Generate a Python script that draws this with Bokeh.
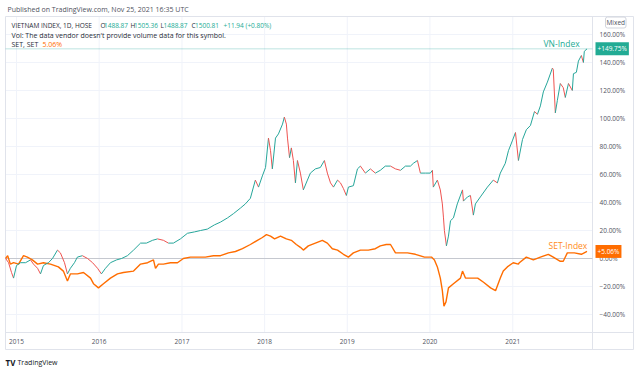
import pandas as pd
from bokeh.plotting import figure
from bokeh.models import Range1d, Label, ColumnDataSource
from bokeh.embed import file_html
from bokeh.resources import INLINE

# ---------------- data (percent change since start) ----------------
vn_dates = [
    "2014-11-14", "2014-11-27", "2014-12-10", "2014-12-19", "2015-01-01", "2015-01-19", "2015-02-10",
    "2015-03-04", "2015-03-17", "2015-04-04", "2015-04-17", "2015-04-30", "2015-05-22", "2015-06-09",
    "2015-07-01", "2015-07-14", "2015-08-01", "2015-08-14", "2015-08-27", "2015-09-14", "2015-09-27",
    "2015-10-19", "2015-11-11", "2015-12-03", "2015-12-25", "2016-01-11", "2016-01-29", "2016-02-20",
    "2016-03-18", "2016-04-09", "2016-05-05", "2016-06-01", "2016-07-02", "2016-07-28", "2016-08-24",
    "2016-09-15", "2016-10-11", "2016-11-02", "2016-11-24", "2016-12-25", "2017-01-25", "2017-02-25",
    "2017-03-24", "2017-04-23", "2017-05-24", "2017-06-20", "2017-07-21", "2017-08-16", "2017-09-16",
    "2017-10-08", "2017-10-30", "2017-11-21", "2017-12-05", "2017-12-22", "2018-01-05", "2018-01-18",
    "2018-01-27", "2018-02-04", "2018-02-18", "2018-03-03", "2018-03-21", "2018-03-29", "2018-04-07",
    "2018-04-12", "2018-04-21", "2018-04-29", "2018-05-08", "2018-05-17", "2018-05-26", "2018-06-08",
    "2018-06-21", "2018-07-09", "2018-07-22", "2018-08-13", "2018-09-04", "2018-09-22", "2018-10-05",
    "2018-10-19", "2018-11-01", "2018-11-19", "2018-12-02", "2018-12-15", "2018-12-28", "2019-01-06",
    "2019-01-28", "2019-02-15", "2019-02-28", "2019-03-22", "2019-04-13", "2019-05-05", "2019-05-27",
    "2019-06-18", "2019-07-11", "2019-08-02", "2019-08-24", "2019-09-15", "2019-10-07", "2019-10-20",
    "2019-11-07", "2019-11-20", "2019-12-12", "2020-01-03", "2020-01-12", "2020-01-16", "2020-02-03",
    "2020-02-16", "2020-02-25", "2020-03-01", "2020-03-05", "2020-03-14", "2020-03-23", "2020-04-01",
    "2020-04-14", "2020-05-01", "2020-05-24", "2020-05-28", "2020-06-15", "2020-06-28", "2020-07-11",
    "2020-07-20", "2020-08-11", "2020-09-11", "2020-10-07", "2020-10-25", "2020-11-07", "2020-11-29",
    "2020-12-13", "2020-12-30", "2021-01-13", "2021-01-26", "2021-02-13", "2021-03-02", "2021-03-20",
    "2021-04-07", "2021-04-20", "2021-05-03", "2021-05-16", "2021-06-03", "2021-06-25", "2021-06-29",
    "2021-07-08", "2021-07-17", "2021-07-30", "2021-08-12", "2021-08-21", "2021-09-04", "2021-09-21",
    "2021-09-26", "2021-10-09", "2021-10-18", "2021-10-31", "2021-11-09", "2021-11-13", "2021-11-25",
]
vn_pct = [
    0, -3, -10, -14, -5, -3, -3,
    -1, -4, -7, -11, -5, -3, 0,
    6, 4, -3, -11, -7, -3, 1,
    2, 0, -3, -7, -11, -7, -3,
    -1, 0, 2, 6, 11, 11, 13,
    14, 13, 11, 11, 14, 18, 19,
    20, 21, 24, 26, 29, 32, 36,
    39, 43, 56, 51, 59, 65, 86,
    77, 64, 86, 89, 96, 101, 96,
    86, 72, 79, 70, 54, 70, 61,
    49, 56, 61, 64, 65, 70, 61,
    54, 51, 56, 54, 50, 45, 51,
    52, 64, 66, 61, 64, 61, 63,
    66, 66, 64, 63, 66, 66, 68,
    70, 61, 61, 61, 63, 51, 56,
    49, 39, 29, 20, 9, 16, 27,
    29, 39, 49, 41, 44, 45, 31,
    39, 44, 51, 56, 54, 61, 68,
    77, 84, 90, 70, 85, 92, 95,
    105, 103, 109, 119, 126, 136, 135,
    104, 113, 125, 122, 115, 125, 120,
    132, 133, 141, 145, 140, 148, 149.75,
]

set_dates = [
    "2014-11-14", "2014-11-23", "2014-12-05", "2014-12-19", "2015-01-10", "2015-02-01", "2015-02-18",
    "2015-03-12", "2015-04-04", "2015-04-30", "2015-05-31", "2015-07-05", "2015-07-27", "2015-08-14",
    "2015-08-27", "2015-09-27", "2015-10-24", "2015-11-24", "2015-12-07", "2015-12-29", "2016-01-20",
    "2016-02-20", "2016-03-22", "2016-04-17", "2016-06-01", "2016-07-02", "2016-08-02", "2016-08-28",
    "2016-09-06", "2016-09-19", "2016-10-11", "2016-11-11", "2016-12-12", "2017-01-07", "2017-02-07",
    "2017-03-10", "2017-04-14", "2017-05-20", "2017-06-20", "2017-07-25", "2017-08-25", "2017-09-25",
    "2017-10-30", "2017-11-30", "2017-12-22", "2018-01-09", "2018-01-27", "2018-02-14", "2018-03-12",
    "2018-04-07", "2018-04-29", "2018-05-21", "2018-06-08", "2018-06-21", "2018-07-13", "2018-08-13",
    "2018-09-13", "2018-10-05", "2018-10-27", "2018-11-19", "2018-12-15", "2019-01-06", "2019-01-28",
    "2019-02-28", "2019-04-04", "2019-05-05", "2019-05-27", "2019-06-22", "2019-07-11", "2019-08-02",
    "2019-09-24", "2019-10-29", "2019-12-08", "2020-01-08", "2020-01-21", "2020-02-03", "2020-02-16",
    "2020-02-25", "2020-03-03", "2020-03-12", "2020-03-23", "2020-04-14", "2020-05-15", "2020-05-24",
    "2020-06-06", "2020-06-28", "2020-07-30", "2020-08-25", "2020-09-25", "2020-10-17", "2020-11-07",
    "2020-11-20", "2020-12-08", "2021-01-03", "2021-01-26", "2021-01-30", "2021-03-02", "2021-04-02",
    "2021-05-03", "2021-06-07", "2021-06-29", "2021-07-30", "2021-08-12", "2021-08-30", "2021-09-30",
    "2021-10-31", "2021-11-25",
]
set_pct = [
    0, 2, -4, -3, -4, 2, 1,
    -1, -4, -3, -4, -6, -9, -16,
    -11, -11, -10, -14, -18, -21, -18,
    -14, -11, -10, -9, -4, -3, -1,
    -7, -4, -4, -3, -3, 0, 1,
    1, 1, 2, 2, 4, 5, 7,
    10, 13, 15, 17, 16, 14, 16,
    14, 13, 10, 8, 6, 9, 11,
    13, 11, 7, 6, 3, 1, 4,
    6, 6, 7, 9, 10, 10, 4,
    4, 3, 1, 1, -1, -6, -14,
    -23, -34, -31, -21, -18, -14, -9,
    -14, -14, -14, -17, -21, -23, -14,
    -9, -6, -3, -4, -3, 1, -1,
    1, 3, 1, -2, -2, 4, 4,
    3, 5.06,
]

years = [2015, 2016, 2017, 2018, 2019, 2020, 2021]
y_ticks = [-40, -20, 0, 20, 40, 60, 80, 100, 120, 140, 160]
vn_last = 149.75
set_last = 5.06

FONT = "Open Sans"
TEAL = "#22ab94"
ORANGE = "#ff6d00"
TXT = "#2a2e39"
GREY = "#50535e"
BORDER = "#e0e3eb"
GRID = "#f0f3fa"

# ---- pixel helpers: canvas position -> data coordinates (layout only) ----
ORIGIN = pd.Timestamp("2015-01-01")
ORIGIN_PX = 16.0
DAYS_PER_PX = 4.417
ZERO_PY = 258.0
PX_PER_PCT = 1.4


def dx(px):
    return ORIGIN + pd.Timedelta(days=(px - ORIGIN_PX) * DAYS_PER_PX)


def dy(py):
    return (ZERO_PY - py) / PX_PER_PCT


PL, PR, PT, PB = 5, 592, 16, 332      # price pane
OR_, OB = 633, 349                   # outer edges of axes

p = figure(width=640, height=370, output_backend="svg", toolbar_location=None,
           x_axis_location=None, y_axis_location=None,
           min_border=0, min_border_left=0, min_border_right=0,
           min_border_top=0, min_border_bottom=0,
           x_range=Range1d(dx(0), dx(640)), y_range=Range1d(dy(370), dy(0)))
p.outline_line_color = None
p.background_fill_color = "white"
p.border_fill_color = "white"
p.grid.visible = False

year_dates = [pd.Timestamp(f"{y}-01-01") for y in years]

# grid lines
p.segment(x0=year_dates, x1=year_dates, y0=[dy(PB)] * len(years), y1=[dy(PT)] * len(years),
          line_color=GRID, line_width=1)
p.segment(x0=[dx(PL)] * len(y_ticks), x1=[dx(PR)] * len(y_ticks), y0=y_ticks, y1=y_ticks,
          line_color=GRID, line_width=1)

# pane borders
p.segment(x0=[dx(PL), dx(PL), dx(PL), dx(PR), dx(OR_), dx(PL)],
          x1=[dx(OR_), dx(OR_), dx(PL), dx(PR), dx(OR_), dx(OR_)],
          y0=[dy(PT), dy(PB), dy(PT), dy(PT), dy(PT), dy(OB)],
          y1=[dy(PT), dy(PB), dy(OB), dy(OB), dy(OB), dy(OB)],
          line_color=BORDER, line_width=1)

# baseline and last-price line
p.segment(x0=[dx(PL)], x1=[dx(PR)], y0=[0], y1=[0], line_color="#c5c8cf", line_width=1)
p.segment(x0=[dx(PL)], x1=[dx(PR)], y0=[vn_last], y1=[vn_last],
          line_color="#26a69a", line_alpha=0.3, line_width=1)

# series
vn_x = pd.to_datetime(vn_dates)
seg_colors = ["#26a69a" if b >= a else "#ef5350" for a, b in zip(vn_pct[:-1], vn_pct[1:])]
vn_src = ColumnDataSource(dict(x0=vn_x[:-1], x1=vn_x[1:], y0=vn_pct[:-1], y1=vn_pct[1:], c=seg_colors))
set_src = ColumnDataSource(dict(x=pd.to_datetime(set_dates), y=set_pct))
p.line("x", "y", source=set_src, line_color=ORANGE, line_width=1.4)
p.segment("x0", "y0", "x1", "y1", source=vn_src, line_color="c", line_width=1)


def lab(text, x, y, color=TXT, size="7px", x_units="screen", align="left", **kw):
    l = Label(text=text, x=x, y=y, x_units=x_units, y_units="data",
              text_font=FONT, text_font_size=size, text_color=color,
              text_baseline="middle", text_align=align, **kw)
    p.add_layout(l)
    return l


# axis tick labels
for t in y_ticks:
    s = f"{t:.2f}%".replace("-", "\u2212")
    lab(s, 599, t, color=GREY, size="6.5px")
for y, d in zip(years, year_dates):
    lab(str(y), d, dy(341), color=GREY, size="6.5px", x_units="data", align="center")

# header
lab("Published on TradingView.com, Nov 25, 2021 16:35 UTC", 7, dy(8.5), color=GREY)

# legend lines
r1, r2, r3 = dy(25), dy(34.5), dy(44)
lab("VIETNAM INDEX, 1D, HOSE", 11, r1, size="6.5px")
lab("O", 100, r1, size="6.5px")
lab("1488.87", 103.5, r1, color=TEAL, size="6.5px")
lab("H", 130, r1, size="6.5px")
lab("1505.36", 133.5, r1, color=TEAL, size="6.5px")
lab("L", 160, r1, size="6.5px")
lab("1488.87", 163, r1, color=TEAL, size="6.5px")
lab("C", 191, r1, size="6.5px")
lab("1500.81", 194.5, r1, color=TEAL, size="6.5px")
lab("+11.94 (+0.80%)", 223, r1, color=TEAL, size="6.5px")
lab("Vol: The data vendor doesn't provide volume data for this symbol.", 11, r2)
lab("SET, SET", 11, r3)
lab("5.06%", 42, r3, color=ORANGE)

# series names
lab("VN-Index", 543, dy(43), color=TEAL, size="8.5px")
lab("SET-Index", 548, dy(245), color="#ff8c1a", size="8.5px")

# price tags and mode button
lab(f"+{vn_last:.2f}%", 595, vn_last, color="white", size="6.5px", background_fill_color=TEAL, padding=2)
lab(f"+{set_last:.2f}%", 595, set_last, color="white", size="6.5px", background_fill_color=ORANGE, padding=2)
lab("Mixed", 605, dy(22), color=GREY, size="6.5px", border_line_color="#d1d4dc", padding=1,
    border_radius=2, background_fill_color="white")

# logo
lab("TV", 5, dy(362), color="#131722", size="8px", text_font_style="bold")
lab("TradingView", 17, dy(362), color="#131722", size="7px")

open("out.html", "w").write(file_html(p, INLINE))
